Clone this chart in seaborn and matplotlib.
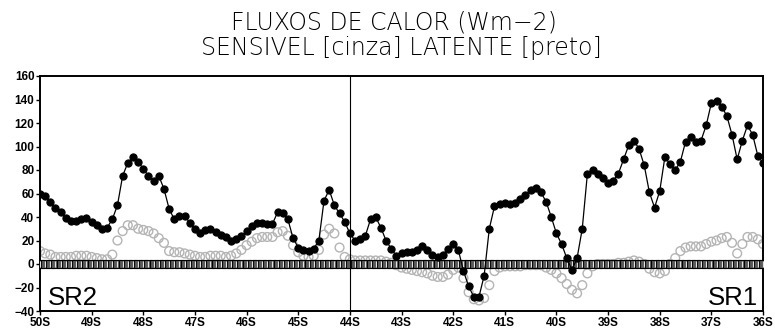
import numpy as np
import pandas as pd
import matplotlib
matplotlib.use("Agg")
import matplotlib.pyplot as plt
import seaborn as sns

# Latitude grid (degrees, negative = south), 0.1 degree spacing from 50S to 36S
lat = np.round(np.arange(-50.0, -35.95, 0.1), 1)

# Latent heat flux (W m-2), black
latente = [
    60, 58, 53, 48, 44, 39, 37, 37, 38, 39,
    36, 33, 30, 31, 38, 50, 75, 86, 91, 87,
    81, 75, 71, 75, 64, 47, 38, 41, 41, 35,
    30, 26, 29, 30, 27, 25, 23, 20, 21, 24,
    28, 32, 35, 35, 34, 34, 44, 43, 38, 22,
    14, 12, 11, 13, 20, 54, 63, 50, 43, 36,
    26, 20, 21, 24, 38, 40, 31, 20, 13, 7,
    9, 10, 10, 12, 15, 12, 8, 6, 8, 13,
    17, 12, -6, -19, -28, -28, -10, 30, 49, 51,
    52, 51, 52, 55, 59, 63, 65, 61, 53, 40,
    26, 17, 5, -5, 5, 30, 77, 80, 77, 73,
    69, 71, 77, 89, 101, 105, 98, 84, 61, 48,
    62, 91, 85, 80, 87, 104, 108, 104, 105, 118,
    137, 139, 134, 126, 110, 89, 105, 118, 110, 92,
    86,
]

# Sensible heat flux (W m-2), grey
sensivel = [
    11, 9, 8, 6, 6, 6, 6, 7, 7, 7,
    6, 5, 4, 4, 8, 20, 28, 33, 33, 30,
    29, 28, 26, 22, 18, 11, 10, 10, 9, 8,
    7, 6, 6, 7, 7, 7, 6, 7, 9, 12,
    16, 19, 22, 23, 23, 23, 27, 28, 24, 16,
    10, 7, 6, 7, 12, 25, 30, 26, 14, 6,
    4, 3, 3, 3, 3, 3, 3, 2, 1, -1,
    -3, -4, -5, -6, -7, -8, -10, -11, -11, -9,
    -5, -3, -12, -24, -30, -31, -29, -18, -6, -3,
    -2, -2, -2, -2, -1, -1, -1, -1, -3, -5,
    -8, -12, -17, -22, -25, -18, -8, -2, 0, 0,
    0, 0, 1, 1, 2, 3, 2, 0, -4, -7,
    -8, -6, 0, 5, 11, 14, 15, 15, 15, 17,
    19, 20, 22, 23, 18, 9, 17, 23, 23, 21,
    17,
]

xticks = [-50, -49, -48, -47, -46, -45, -44, -43, -42, -41, -40, -39, -38, -37, -36]
xticklabels = ["50S", "49S", "48S", "47S", "46S", "45S", "44S", "43S",
               "42S", "41S", "40S", "39S", "38S", "37S", "36S"]
yticks = [-40, -20, 0, 20, 40, 60, 80, 100, 120, 140, 160]
divisor_lat = -44
regions = ["SR2", "SR1"]

df = pd.DataFrame({"lat": lat, "latente": latente, "sensivel": sensivel,
                   "zero": np.zeros(len(lat))})

sns.set_theme(style="white")
plt.rcParams["font.family"] = ["DejaVu Sans"]

fig = plt.figure(figsize=(7.75, 3.29), dpi=100)
ax = fig.add_axes([40 / 775, 1 - 311 / 329, 723 / 775, 235 / 329])

# Sensible flux: open grey circles
sns.scatterplot(data=df, x="lat", y="sensivel", ax=ax, marker="o", s=40,
                facecolor="none", edgecolor="#b4b4b4", linewidth=1.0, zorder=2)

# Zero reference band: grey boxes with light separators
sns.lineplot(data=df, x="lat", y="zero", ax=ax, color="black", linewidth=0.6,
             marker="s", markersize=5.2, markerfacecolor="#5a5a5a",
             markeredgecolor="black", markeredgewidth=0.8, zorder=3)
sns.scatterplot(data=df, x="lat", y="zero", ax=ax, marker="|", s=14,
                color="#e2e2e2", linewidth=0.8, zorder=3.5)

# Latent flux: black line with filled markers
sns.lineplot(data=df, x="lat", y="latente", ax=ax, color="black", linewidth=0.9,
             marker="o", markersize=5.2, markeredgecolor="black",
             markerfacecolor="black", zorder=4)

ax.axvline(divisor_lat, color="black", linewidth=0.8, zorder=5)

ax.set_xlim(-50, -36)
ax.set_ylim(-40, 160)
ax.set_xticks(xticks)
ax.set_xticklabels(xticklabels)
ax.set_yticks(yticks)
ax.set_yticklabels([str(v).replace("-", "\u2212") for v in yticks])
ax.set_xlabel("")
ax.set_ylabel("")

for lab in ax.get_xticklabels() + ax.get_yticklabels():
    lab.set_fontfamily("Liberation Sans")
    lab.set_fontweight("bold")
    lab.set_fontsize(8.5)
    lab.set_color("black")

ax.tick_params(axis="both", direction="out", length=3, width=1, color="black",
               pad=1, bottom=True, left=True)
for sp in ax.spines.values():
    sp.set_color("black")
    sp.set_linewidth(1.4)

ax.text(0.011, 0.025, regions[0], transform=ax.transAxes, fontsize=18.5,
        family="Liberation Sans", ha="left", va="baseline", color="black",
        zorder=6)
ax.text(0.993, 0.025, regions[1], transform=ax.transAxes, fontsize=18.5,
        family="Liberation Sans", ha="right", va="baseline", color="black",
        zorder=6)

fig.text(0.508, 0.933, "FLUXOS DE CALOR (Wm\u22122)", ha="center", va="center",
         fontsize=17, fontweight="light", family="DejaVu Sans", color="black")
fig.text(0.518, 0.854, "SENSIVEL [cinza] LATENTE [preto]", ha="center",
         va="center", fontsize=17, fontweight="light", family="DejaVu Sans",
         color="black")

fig.savefig("out.png", dpi=100)
